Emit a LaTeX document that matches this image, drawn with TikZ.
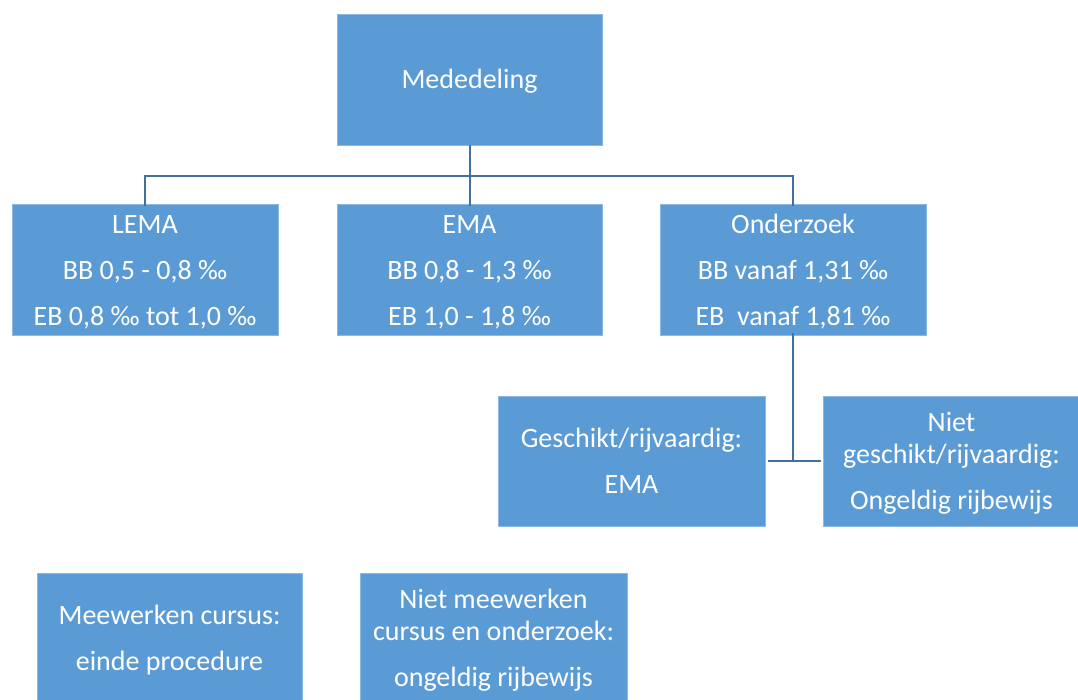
\documentclass[tikz,border=0pt]{standalone}
\usepackage{fontspec}
\setmainfont{Carlito}
\definecolor{boxblue}{HTML}{5B9BD5}
\definecolor{lineblue}{HTML}{41719C}
\newcommand{\boxtext}[1]{\raisebox{-3pt}{\begin{tabular}{@{}c@{}}#1\end{tabular}}}
\begin{document}
\begin{tikzpicture}[x=1pt,y=-1pt,
  box/.style={rectangle, fill=boxblue, draw=boxblue!70!white, line width=0.6pt, text=white,
    minimum height=131pt, inner xsep=0pt, inner ysep=-8pt,
    font=\fontsize{28}{46}\selectfont},
  conn/.style={draw=lineblue, line width=2pt}]
\useasboundingbox (0,0) rectangle (1078,700);
\clip (0,0) rectangle (1078,700);
\fill[white] (0,0) rectangle (1078,700);
\node[box, minimum width=265pt] (med) at (469.5,79.5) {\boxtext{Mededeling}};
\node[box, minimum width=266pt] (lema) at (145,270) {\boxtext{LEMA\\BB 0,5 - 0,8 ‰\\EB 0,8 ‰ tot 1,0 ‰}};
\node[box, minimum width=265pt] (ema) at (469.5,270) {\boxtext{EMA\\BB 0,8 - 1,3 ‰\\EB 1,0 - 1,8 ‰}};
\node[box, minimum width=266pt] (ond) at (793,270) {\boxtext{Onderzoek\\BB vanaf 1,31 ‰\\EB\ \ vanaf 1,81 ‰}};
\node[box, minimum width=267pt, minimum height=130pt] (ges) at (631.5,461) {\boxtext{Geschikt/rijvaardig:\\EMA}};
\node[box, minimum width=257pt, minimum height=130pt] (nges) at (951.5,461) {\boxtext{Niet\\[-14pt]geschikt/rijvaardig:\\Ongeldig rijbewijs}};
\node[box, minimum width=265pt, minimum height=130pt] (mee) at (169.5,638) {\boxtext{Meewerken cursus:\\einde procedure}};
\node[box, minimum width=267pt, minimum height=130pt] (nmee) at (493.5,638) {\boxtext{Niet meewerken\\[-14pt]cursus en onderzoek:\\ongeldig rijbewijs}};
\coordinate (bus) at (0,176);
\draw[conn] (med.south) -- (med.south |- bus);
\draw[conn] ([yshift=-2pt]lema.north) -- (lema.north |- bus) -- (ond.north |- bus) -- ([yshift=-2pt]ond.north);
\draw[conn] ([yshift=-2pt]ema.north) -- (ema.north |- bus);
\draw[conn] ([yshift=3pt]ond.south) -- (ond.south |- ges.east);
\draw[conn] ([xshift=3pt]ges.east) -- ([xshift=-2pt]nges.west);
\end{tikzpicture}
\end{document}
